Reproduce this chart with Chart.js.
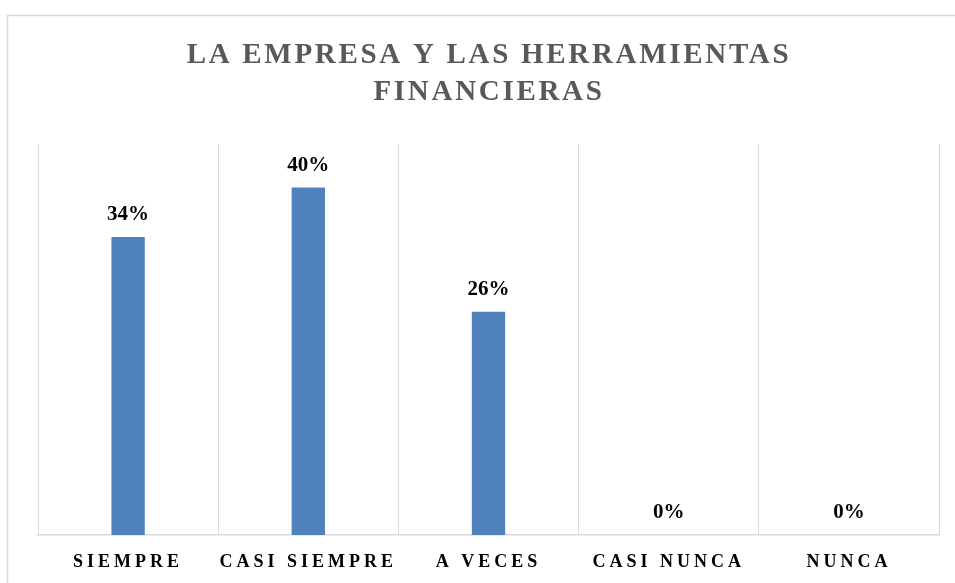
<!DOCTYPE html>
<html>
<head>
<meta charset="utf-8">
<script src="https://cdn.jsdelivr.net/npm/chart.js@4/dist/chart.umd.min.js"></script>
<style>
  html, body { margin: 0; padding: 0; background: #ffffff; }
  #wrap { width: 955px; height: 583px; position: relative; }
</style>
</head>
<body>
<div id="wrap"><canvas id="c" width="955" height="583"></canvas></div>
<script>
const categories = ["SIEMPRE", "CASI SIEMPRE", "A VECES", "CASI NUNCA", "NUNCA"];
const values = [0.343, 0.400, 0.257, 0, 0];
const titleLines = ["LA EMPRESA Y LAS HERRAMIENTAS", "FINANCIERAS"];

const frame = {
  id: 'frame',
  beforeDraw(chart) {
    const ctx = chart.ctx;
    ctx.save();
    ctx.strokeStyle = '#d9d9d9';
    ctx.lineWidth = 1.5;
    ctx.strokeRect(7.5, 15.5, 1200, 1200);
    // title
    ctx.letterSpacing = '2.7px';
    ctx.font = 'bold 29px "Liberation Serif"';
    ctx.fillStyle = '#595959';
    ctx.textAlign = 'center';
    ctx.textBaseline = 'middle';
    const cx = 489;
    ctx.fillText(titleLines[0], cx, 56);
    ctx.fillText(titleLines[1], cx, 93);
    ctx.restore();
    ctx.letterSpacing = '4px';
  }
};

const dataLabels = {
  id: 'dataLabels',
  afterDatasetsDraw(chart) {
    const ctx = chart.ctx;
    const meta = chart.getDatasetMeta(0);
    ctx.save();
    ctx.letterSpacing = '0px';
    ctx.font = 'bold 21px "Liberation Serif"';
    ctx.fillStyle = '#000000';
    ctx.textAlign = 'center';
    ctx.textBaseline = 'middle';
    meta.data.forEach((bar, i) => {
      const txt = Math.round(values[i] * 100) + '%';
      ctx.fillText(txt, bar.x, bar.y - 22);
    });
    ctx.restore();
  }
};

new Chart(document.getElementById('c'), {
  type: 'bar',
  data: {
    labels: categories,
    datasets: [{
      data: values,
      backgroundColor: '#4F81BD',
      borderWidth: 0,
      barPercentage: 0.185,
      categoryPercentage: 1.0
    }]
  },
  options: {
    responsive: false,
    animation: false,
    layout: { padding: { left: 38, right: 16, top: 144, bottom: 0 } },
    plugins: {
      legend: { display: false },
      tooltip: { enabled: false },
      title: { display: false }
    },
    scales: {
      x: {
        afterFit(scale) { scale.height = 48; },
        grid: { color: '#d9d9d9', lineWidth: 1, drawTicks: false },
        border: { color: '#d9d9d9', width: 1.5 },
        ticks: {
          color: '#000000',
          padding: 17,
          font: { family: '"Liberation Serif"', size: 18, weight: 'bold' }
        }
      },
      y: {
        display: false,
        min: 0,
        max: 0.45
      }
    }
  },
  plugins: [frame, dataLabels]
});
</script>
</body>
</html>
